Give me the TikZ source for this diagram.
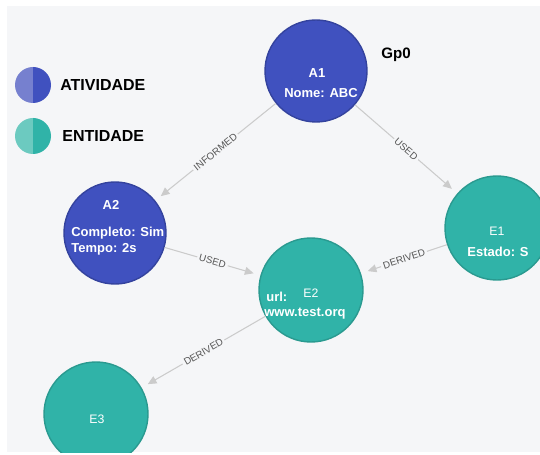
\documentclass[tikz,border=0pt]{standalone}
\usepackage{fontspec}
\setmainfont{Liberation Sans}
\usetikzlibrary{arrows.meta}
\definecolor{bgc}{HTML}{F5F6F8}
\definecolor{actfill}{HTML}{4051BF}
\definecolor{actline}{HTML}{34439E}
\definecolor{actlight}{HTML}{7680CF}
\definecolor{entfill}{HTML}{30B3A8}
\definecolor{entline}{HTML}{2A9A90}
\definecolor{entlight}{HTML}{6CCAC0}
\definecolor{edgec}{HTML}{CBCBCB}
\definecolor{elabel}{HTML}{555555}
\begin{document}
\begin{tikzpicture}[x=0.02cm,y=-0.02cm,
  actnode/.style={circle,fill=actfill,draw=actline,line width=0.8pt,minimum size=102*0.02cm,inner sep=0pt},
  entnode/.style={circle,fill=entfill,draw=entline,line width=0.8pt,minimum size=104*0.02cm,inner sep=0pt},
  boldtxt/.style={text=white,font=\fontsize{7.4}{9}\selectfont\bfseries,inner sep=0pt},
  plaintxt/.style={text=white,font=\fontsize{7}{9}\selectfont,inner sep=0pt},
  legendtxt/.style={font=\fontsize{9.1}{11}\selectfont\bfseries,anchor=west,inner sep=0pt},
  link/.style={draw=edgec,line width=0.6pt,-{Triangle[length=5pt,width=4.5pt]},shorten >=4pt},
  linklabel/.style={midway,sloped,fill=bgc,inner sep=1.2pt,text=elabel,font=\fontsize{5.6}{6}\selectfont}
]
\useasboundingbox (0,0) rectangle (540,455);
\fill[white] (0,0) rectangle (540,455);
\fill[bgc] (7,6) rectangle (540,452);

\begin{scope}
\clip (7,6) rectangle (540,452);

% graph nodes
\node[actnode] (a1) at (316,71) {};
\node[actnode] (a2) at (115,233) {};
\node[entnode] (e1) at (497,228) {};
\node[entnode] (e2) at (311,290) {};
\node[entnode] (e3) at (96,414) {};

% relations
\draw[link] (a1) -- (a2) node[linklabel] {INFORMED};
\draw[link] (a1) -- (e1) node[linklabel] {USED};
\draw[link] (a2) -- (e2) node[linklabel] {USED};
\draw[link] (e1) -- (e2) node[linklabel] {DERIVED};
\draw[link] (e2) -- (e3) node[linklabel] {DERIVED};
\end{scope}

% node contents
\node[boldtxt] (a1id) at (317,73) {A1};
\node[boldtxt] (a1name) at (321,93) {Nome: ABC};
\node[boldtxt] (a2id) at (111,205) {A2};
\node[boldtxt,anchor=west] (a2done) at (71,233) {Completo: Sim};
\node[boldtxt,anchor=west] (a2time) at (71,249) {Tempo: 2s};
\node[plaintxt] (e1id) at (497,231) {E1};
\node[boldtxt] (e1state) at (498,252) {Estado: S};
\node[plaintxt] (e2id) at (311,293) {E2};
\node[boldtxt,anchor=west] (e2url) at (266,297) {url:};
\node[boldtxt,anchor=west] (e2site) at (264,314) {www.test.orq};
\node[plaintxt] (e3id) at (97,419) {E3};

% graph title
\node[font=\fontsize{8.6}{10}\selectfont\bfseries,inner sep=0pt] (title) at (396,55) {Gp0};

% legend: two-tone discs (y axis points down, so arcs start at the bottom)
\fill[actlight] (33,103) arc (90:270:18) -- cycle;
\fill[actfill] (33,103) arc (90:-90:18) -- cycle;
\fill[entlight] (33,154) arc (90:270:18) -- cycle;
\fill[entfill] (33,154) arc (90:-90:18) -- cycle;
\node[legendtxt] (legact) at (60,85) {ATIVIDADE};
\node[legendtxt] (legent) at (62,136) {ENTIDADE};
\end{tikzpicture}
\end{document}
